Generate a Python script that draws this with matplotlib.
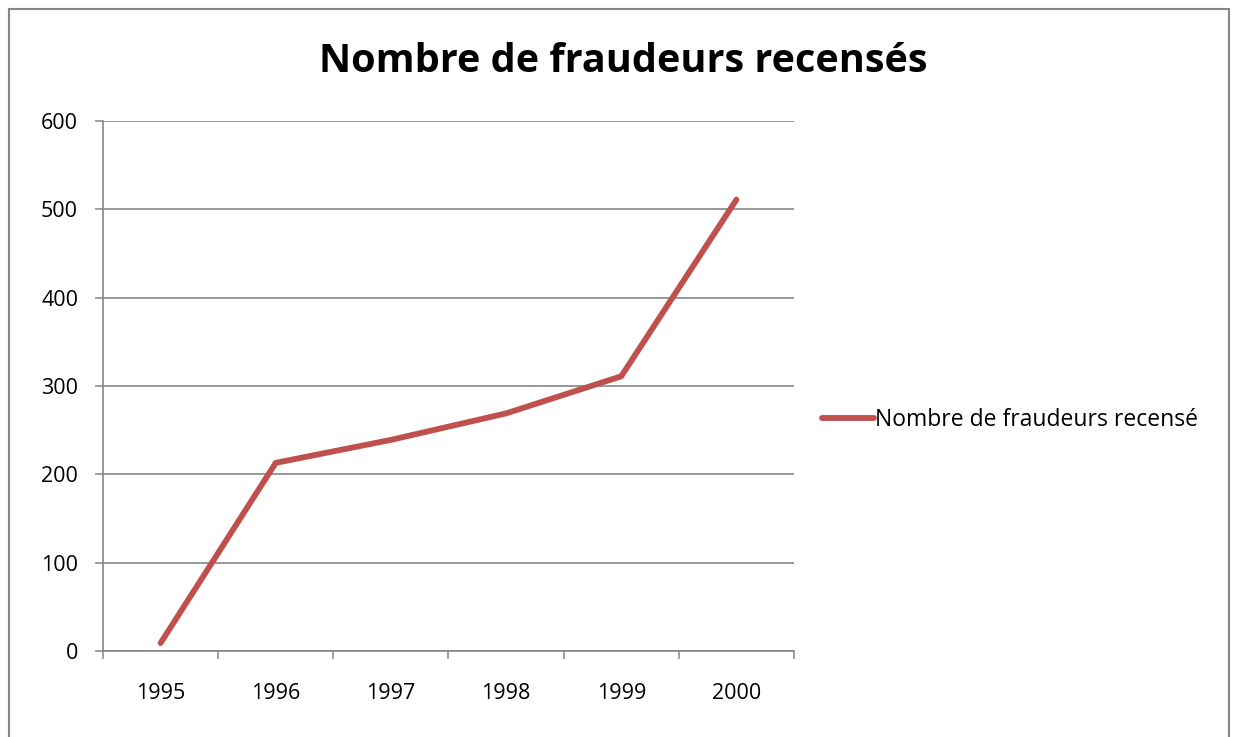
import matplotlib.pyplot as plt
from matplotlib.patches import Rectangle

years = ['1995', '1996', '1997', '1998', '1999', '2000']
fraudeurs = [9, 213, 239, 269, 311, 511]

plt.rcParams['font.family'] = ['Open Sans', 'DejaVu Sans']

W, H = 1234, 737
fig = plt.figure(figsize=(W / 100, H / 100), dpi=100)
ax = fig.add_axes([103 / W, 1 - 651 / H, (794 - 103) / W, (651 - 121) / H])

grey = '#868686'
x = list(range(len(years)))
ax.plot(x, fraudeurs, color='#C0504D', lw=4.2, solid_capstyle='round',
        solid_joinstyle='round', label='Nombre de fraudeurs recensé')

ax.set_xlim(-0.5, len(years) - 0.5)
ax.set_ylim(0, 600)
ax.set_yticks(range(0, 601, 100))
ax.set_xticks(x)
ax.set_xticklabels(years)
ax.set_xticks([i - 0.5 for i in range(len(years) + 1)], minor=True)
ax.tick_params(axis='x', which='major', length=0, pad=23, labelsize=15.5)
ax.tick_params(axis='x', which='minor', length=6, width=1.1, color=grey, direction='out')
ax.tick_params(axis='y', length=6, width=1.1, color=grey, pad=12, labelsize=15.5)

ax.grid(axis='y', color=grey, lw=1.2)
ax.set_axisbelow(True)
for s in ['top', 'right']:
    ax.spines[s].set_visible(False)
for s in ['left', 'bottom']:
    ax.spines[s].set_color(grey)
    ax.spines[s].set_linewidth(1.2)

fig.text(623 / W, 1 - 62 / H, 'Nombre de fraudeurs recensés', ha='center', va='center',
         fontsize=28.5, fontweight='bold')

ax.legend(loc='center left', bbox_to_anchor=(801 / W, 1 - 420 / H),
          bbox_transform=fig.transFigure, frameon=False, fontsize=16.5,
          handlelength=2.3, handletextpad=0.05)

fig.patches.append(Rectangle((9 / W, -0.05), (1229 - 9) / W, 1 - 9 / H + 0.05,
                             transform=fig.transFigure, fill=False,
                             edgecolor=grey, lw=1.5))

fig.savefig('out.png', dpi=100)
